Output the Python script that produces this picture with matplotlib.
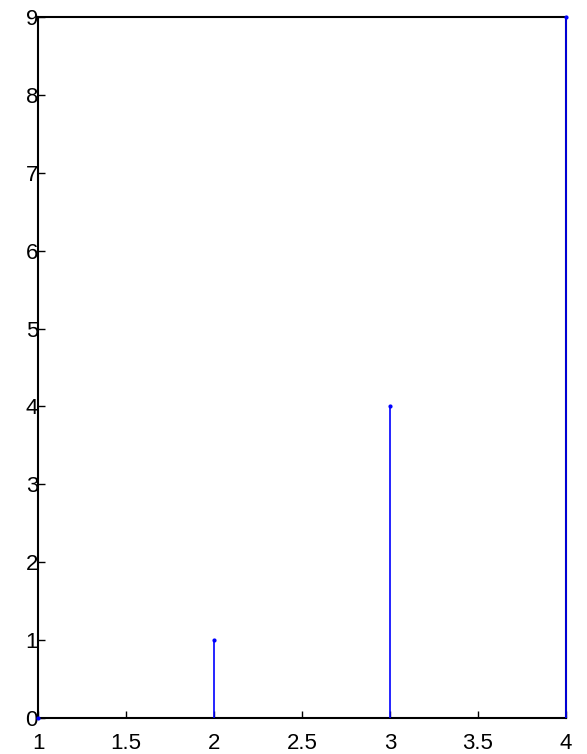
import matplotlib
matplotlib.use('Agg')
import matplotlib.pyplot as plt

x = [1, 2, 3, 4]
y = [0, 1, 4, 9]
xticks = [1, 1.5, 2, 2.5, 3, 3.5, 4]
xlabels = ['1', '1.5', '2', '2.5', '3', '3.5', '4']
yticks = [0, 1, 2, 3, 4, 5, 6, 7, 8, 9]

plt.rcParams['font.family'] = ['Liberation Sans', 'DejaVu Sans']

fig = plt.figure(figsize=(5.87, 7.54), dpi=100)
ax = fig.add_axes([38 / 587, 36 / 754, 528 / 587, 701 / 754])

markerline, stemlines, baseline = ax.stem(x, y, linefmt='b-', markerfmt='b.', basefmt='k-')
stemlines.set_linewidth(1.2)
stemlines.set_clip_on(False)
stemlines.set_zorder(5)
markerline.set_markersize(4)
markerline.set_clip_on(False)
markerline.set_zorder(6)
baseline.set_visible(False)

ax.set_xlim(1, 4)
ax.set_ylim(0, 9)
ax.set_xticks(xticks)
ax.set_xticklabels(xlabels)
ax.set_yticks(yticks)
for s in ax.spines.values():
    s.set_linewidth(1.5)
ax.tick_params(direction='in', length=5, width=1, labelsize=16)
ax.tick_params(axis='y', pad=0)
ax.tick_params(axis='x', pad=11)
for lbl in ax.get_yticklabels():
    lbl.set_verticalalignment('center_baseline')

fig.savefig('out.png', dpi=100)
